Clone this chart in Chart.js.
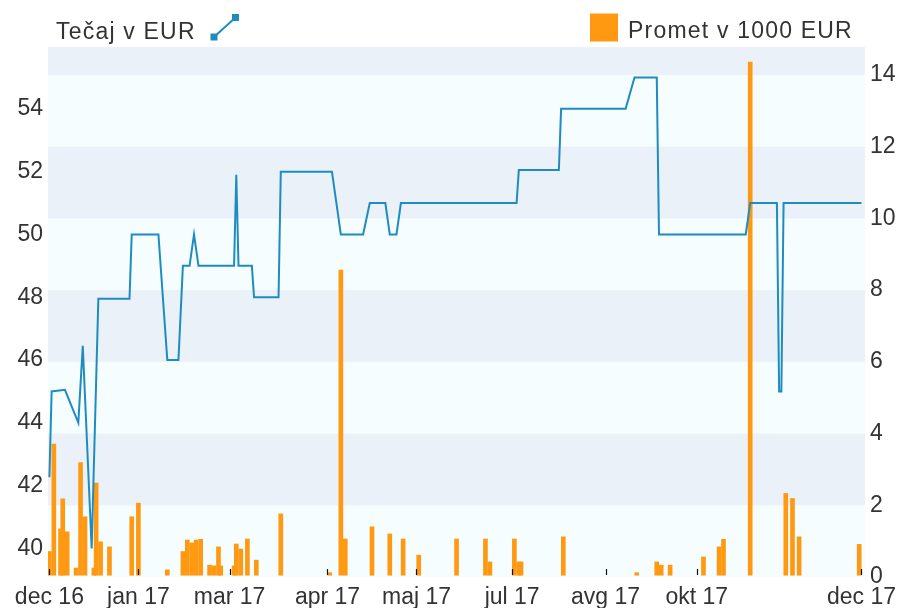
<!DOCTYPE html>
<html>
<head>
<meta charset="utf-8">
<script src="https://cdn.jsdelivr.net/npm/chart.js@4.4.1/dist/chart.umd.min.js"></script>
<style>
  body { margin: 0; background: #fff; }
  #wrap { width: 897px; height: 608px; }
</style>
</head>
<body>
<div id="wrap"><canvas id="chart"></canvas></div>
<script>
// x = days counted from the "dec 16" tick
var tickDays = [0, 40, 81, 125, 165, 208, 250, 291, 365];
var tickLabels = ['dec 16', 'jan 17', 'mar 17', 'apr 17', 'maj 17', 'jul 17', 'avg 17', 'okt 17', 'dec 17'];

// Tečaj v EUR (left axis)
var rateDays = [0, 1, 7, 13, 15, 19, 22, 36, 37, 49, 53, 58, 60, 63, 65, 67, 83, 84, 85, 91, 92,
    103, 104, 127, 131, 141, 144, 151, 153, 156, 158, 210, 211, 229, 230, 259, 263, 273, 274,
    313, 315, 327, 328, 329, 330, 365];
var rateValues = [42.27, 45.0, 45.05, 44.0, 46.45, 40.0, 47.95, 47.95, 50.0, 50.0, 46.0, 46.0, 49.0, 49.0, 50.0, 49.0, 49.0, 51.9, 49.0, 49.0, 48.0,
    48.0, 52.0, 52.0, 50.0, 50.0, 51.0, 51.0, 50.0, 50.0, 51.0, 51.0, 52.05, 52.05, 54.0, 54.0, 55.0, 55.0, 50.0,
    50.0, 51.0, 51.0, 45.0, 45.0, 51.0, 51.0];

// Promet v 1000 EUR (right axis)
var volDays = [0, 2, 5, 6, 8, 12, 14, 16, 20, 21, 23, 27, 37, 40, 53, 60, 62, 64, 66, 68,
    72, 74, 76, 77, 83, 84, 86, 89, 93, 104, 126, 131, 133, 145, 153, 159, 166, 183, 196, 198,
    209, 211, 212, 231, 264, 273, 275, 279, 294, 301, 303, 315, 331, 334, 337, 364];
var volValues = [0.71, 3.71, 1.34, 2.18, 1.26, 0.25, 3.19, 1.68, 0.25, 2.62, 0.98, 0.84, 1.68, 2.06, 0.2, 0.71, 1.03, 0.95, 1.03, 1.05,
    0.33, 0.31, 0.84, 0.31, 0.31, 0.92, 0.78, 1.06, 0.47, 1.76, 0.12, 8.56, 1.06, 1.4, 1.2, 1.06, 0.61, 1.06, 1.06, 0.42,
    1.06, 0.42, 0.42, 1.12, 0.12, 0.42, 0.33, 0.33, 0.56, 0.84, 1.05, 14.36, 2.33, 2.19, 1.12, 0.91];

var leftTicks = [40, 42, 44, 46, 48, 50, 52, 54];
var rightTicks = [0, 2, 4, 6, 8, 10, 12, 14];

var BLUE = '#1f8cc0';
var ORANGE = '#ff9911';
var FONT = '"Liberation Sans", Arial, sans-serif';

var ratePoints = rateDays.map(function (d, i) { return { x: d, y: rateValues[i] }; });
var volPoints = volDays.map(function (d, i) { return { x: d, y: volValues[i] }; });

var bandsPlugin = {
    id: 'bands',
    beforeDatasetsDraw: function (chart) {
        var ctx = chart.ctx, a = chart.chartArea, s = chart.scales.y1;
        ctx.save();
        ctx.fillStyle = '#f5fdff';
        ctx.fillRect(a.left, a.top, a.right - a.left, a.bottom - a.top);
        ctx.fillStyle = '#eaf1f9';
        for (var v = 2; v <= 14; v += 4) {
            var y1 = s.getPixelForValue(v);
            var y2 = Math.max(s.getPixelForValue(v + 2), a.top);
            ctx.fillRect(a.left, y2, a.right - a.left, y1 - y2);
        }
        ctx.restore();
    },
    afterDatasetsDraw: function (chart) {
        var ctx = chart.ctx, a = chart.chartArea, xs = chart.scales.x;
        ctx.save();
        ctx.strokeStyle = '#111';
        ctx.lineWidth = 1.2;
        tickDays.forEach(function (d) {
            var px = Math.round(xs.getPixelForValue(d)) + 0.5;
            ctx.beginPath();
            ctx.moveTo(px, a.bottom - 8);
            ctx.lineTo(px, a.bottom - 2);
            ctx.stroke();
        });
        ctx.restore();
    },
    afterDraw: function (chart) {
        var ctx = chart.ctx;
        ctx.save();
        ctx.font = '23px ' + FONT;
        ctx.letterSpacing = '1.2px';
        ctx.fillStyle = '#333';
        ctx.textBaseline = 'alphabetic';
        ctx.fillText('Tečaj v EUR', 56, 39);
        // line icon
        ctx.strokeStyle = BLUE;
        ctx.lineWidth = 2;
        ctx.beginPath();
        ctx.moveTo(214, 37);
        ctx.lineTo(235.5, 17.5);
        ctx.stroke();
        ctx.fillStyle = BLUE;
        ctx.fillRect(210.5, 33.5, 7, 7);
        ctx.fillRect(232, 14, 7, 7);
        // bar icon
        ctx.fillStyle = ORANGE;
        ctx.fillRect(590, 13.5, 28, 28);
        ctx.fillStyle = '#333';
        ctx.fillText('Promet v 1000 EUR', 628, 38);
        ctx.restore();
    }
};

new Chart(document.getElementById('chart'), {
    data: {
        datasets: [{
            type: 'line',
            data: ratePoints,
            yAxisID: 'y',
            borderColor: BLUE,
            borderWidth: 2,
            pointRadius: 0,
            tension: 0,
            order: 0
        }, {
            type: 'bar',
            data: volPoints,
            yAxisID: 'y1',
            backgroundColor: ORANGE,
            borderWidth: 0,
            barThickness: 4,
            base: 0.05,
            order: 1
        }]
    },
    options: {
        responsive: true,
        maintainAspectRatio: false,
        animation: false,
        layout: { padding: { top: 47 } },
        plugins: { legend: { display: false }, tooltip: { enabled: false } },
        scales: {
            x: {
                type: 'linear',
                offset: false,
                min: -0.63,
                max: 366.6,
                grid: { display: false, drawTicks: false, offset: false },
                border: { display: false },
                afterBuildTicks: function (s) { s.ticks = tickDays.map(function (v) { return { value: v }; }); },
                afterFit: function (s) { s.height = 31; s.paddingLeft = 0; s.paddingRight = 0; },
                ticks: {
                    autoSkip: false, maxRotation: 0, minRotation: 0, padding: 7,
                    color: '#333', font: { family: FONT, size: 23 },
                    callback: function (v) { return tickLabels[tickDays.indexOf(v)]; }
                }
            },
            y: {
                position: 'left',
                min: 39.09,
                max: 55.97,
                grid: { display: false, drawTicks: false },
                border: { display: false },
                afterBuildTicks: function (s) { s.ticks = leftTicks.map(function (v) { return { value: v }; }); },
                afterFit: function (s) { s.width = 48; },
                ticks: { padding: 5, color: '#333', font: { family: FONT, size: 23 } }
            },
            y1: {
                position: 'right',
                min: 0,
                max: 14.78,
                grid: { display: false, drawTicks: false },
                border: { display: false },
                afterBuildTicks: function (s) { s.ticks = rightTicks.map(function (v) { return { value: v }; }); },
                afterFit: function (s) { s.width = 32; },
                ticks: { padding: 5, color: '#333', font: { family: FONT, size: 23 } }
            }
        }
    },
    plugins: [bandsPlugin]
});
</script>
</body>
</html>
